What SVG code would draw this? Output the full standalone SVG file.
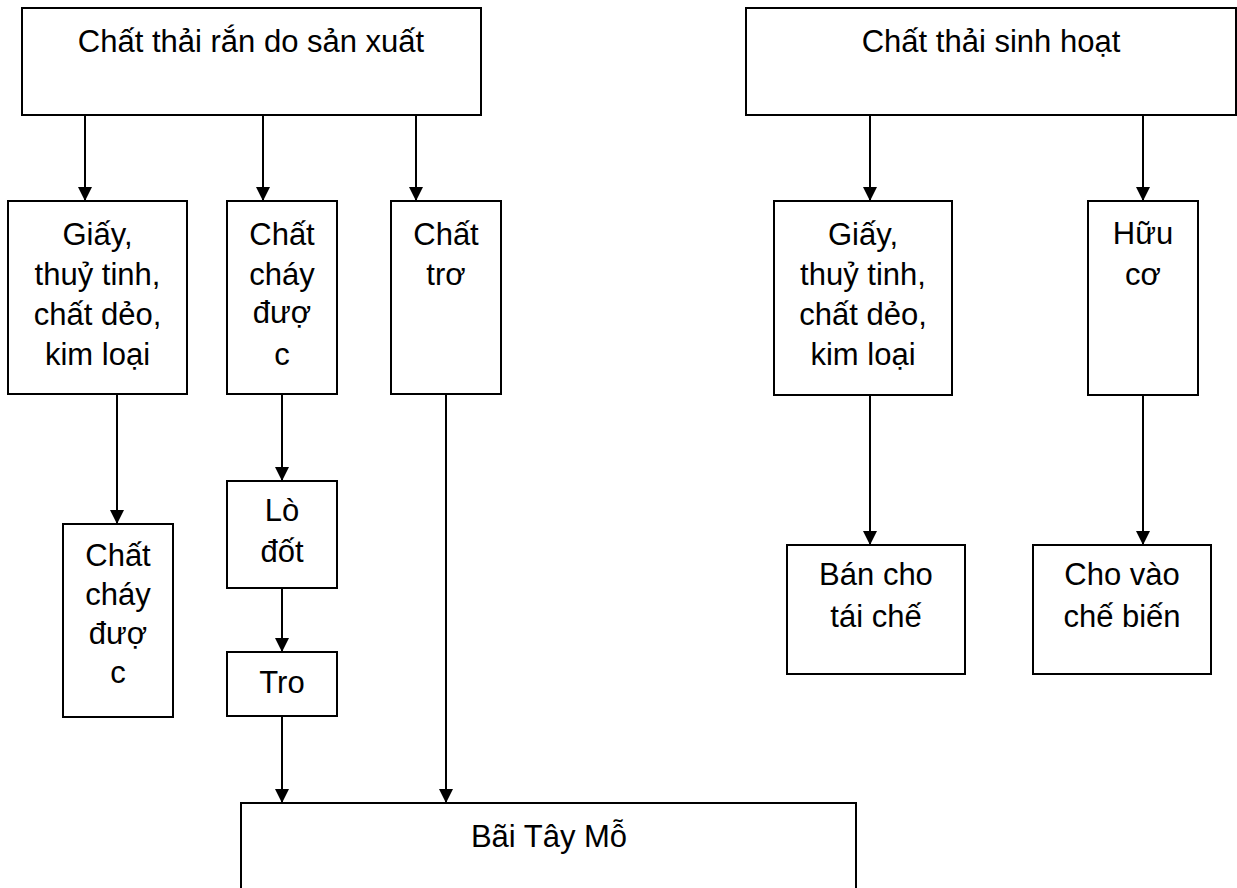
<svg xmlns="http://www.w3.org/2000/svg" width="1237" height="888" viewBox="0 0 1237 888">
<style>
.box{fill:#fff;stroke:#000;stroke-width:2}
.t{font-family:"Liberation Sans",Arial,sans-serif;font-size:31px;fill:#000;text-anchor:middle}
.c{stroke:#000;stroke-width:2;fill:none;marker-end:url(#ah)}
</style>
<defs>
<marker id="ah" markerUnits="userSpaceOnUse" markerWidth="14" markerHeight="14" refX="13" refY="6.5" orient="auto" viewBox="0 0 13 13">
<path d="M0,0 L13,6.5 L0,13 Z" fill="#000"/>
</marker>
</defs>
<rect width="1237" height="888" fill="#fff"/>
<g id="connectors">
<line class="c" x1="85" y1="115" x2="85" y2="201"/>
<line class="c" x1="263" y1="115" x2="263" y2="201"/>
<line class="c" x1="416" y1="115" x2="416" y2="201"/>
<line class="c" x1="870" y1="115" x2="870" y2="201"/>
<line class="c" x1="1143" y1="115" x2="1143" y2="201"/>
<line class="c" x1="117" y1="394" x2="117" y2="524"/>
<line class="c" x1="282" y1="394" x2="282" y2="481"/>
<line class="c" x1="282" y1="588" x2="282" y2="652"/>
<line class="c" x1="282" y1="716" x2="282" y2="803"/>
<line class="c" x1="446" y1="394" x2="446" y2="803"/>
<line class="c" x1="870" y1="395" x2="870" y2="545"/>
<line class="c" x1="1143" y1="395" x2="1143" y2="545"/>
</g>
<g id="n-sanxuat">
<rect class="box" x="22" y="8" width="459" height="107"/>
<text class="t" x="251" y="52">Chất thải rắn do sản xuất</text>
</g>
<g id="n-sinhhoat">
<rect class="box" x="746" y="8" width="490" height="107"/>
<text class="t" x="991" y="52">Chất thải sinh hoạt</text>
</g>
<g id="n-giay1">
<rect class="box" x="8" y="201" width="179" height="193"/>
<text class="t" x="97.5" y="245">Giấy,</text>
<text class="t" x="97.5" y="285">thuỷ tinh,</text>
<text class="t" x="97.5" y="325">chất dẻo,</text>
<text class="t" x="97.5" y="365">kim loại</text>
</g>
<g id="n-chay1">
<rect class="box" x="227" y="201" width="110" height="193"/>
<text class="t" x="282" y="245">Chất</text>
<text class="t" x="282" y="285">cháy</text>
<text class="t" x="282" y="323">đượ</text>
<text class="t" x="282" y="365">c</text>
</g>
<g id="n-tro-chat">
<rect class="box" x="391" y="201" width="110" height="193"/>
<text class="t" x="446" y="245">Chất</text>
<text class="t" x="446" y="285">trơ</text>
</g>
<g id="n-giay2">
<rect class="box" x="774" y="201" width="178" height="194"/>
<text class="t" x="863" y="245">Giấy,</text>
<text class="t" x="863" y="285">thuỷ tinh,</text>
<text class="t" x="863" y="325">chất dẻo,</text>
<text class="t" x="863" y="365">kim loại</text>
</g>
<g id="n-huuco">
<rect class="box" x="1088" y="201" width="110" height="194"/>
<text class="t" x="1143" y="244">Hữu</text>
<text class="t" x="1143" y="285">cơ</text>
</g>
<g id="n-chay2">
<rect class="box" x="63" y="524" width="110" height="193"/>
<text class="t" x="118" y="566">Chất</text>
<text class="t" x="118" y="605">cháy</text>
<text class="t" x="118" y="644">đượ</text>
<text class="t" x="118" y="683">c</text>
</g>
<g id="n-lodot">
<rect class="box" x="227" y="481" width="110" height="107"/>
<text class="t" x="282" y="521">Lò</text>
<text class="t" x="282" y="562">đốt</text>
</g>
<g id="n-tro">
<rect class="box" x="227" y="652" width="110" height="64"/>
<text class="t" x="282" y="693">Tro</text>
</g>
<g id="n-ban">
<rect class="box" x="787" y="545" width="178" height="129"/>
<text class="t" x="876" y="585">Bán cho</text>
<text class="t" x="876" y="627">tái chế</text>
</g>
<g id="n-chebien">
<rect class="box" x="1033" y="545" width="178" height="129"/>
<text class="t" x="1122" y="585">Cho vào</text>
<text class="t" x="1122" y="627">chế biến</text>
</g>
<g id="n-baitaymo">
<rect class="box" x="241" y="803" width="615" height="90"/>
<text class="t" x="549" y="847">Bãi Tây Mỗ</text>
</g>
</svg>
